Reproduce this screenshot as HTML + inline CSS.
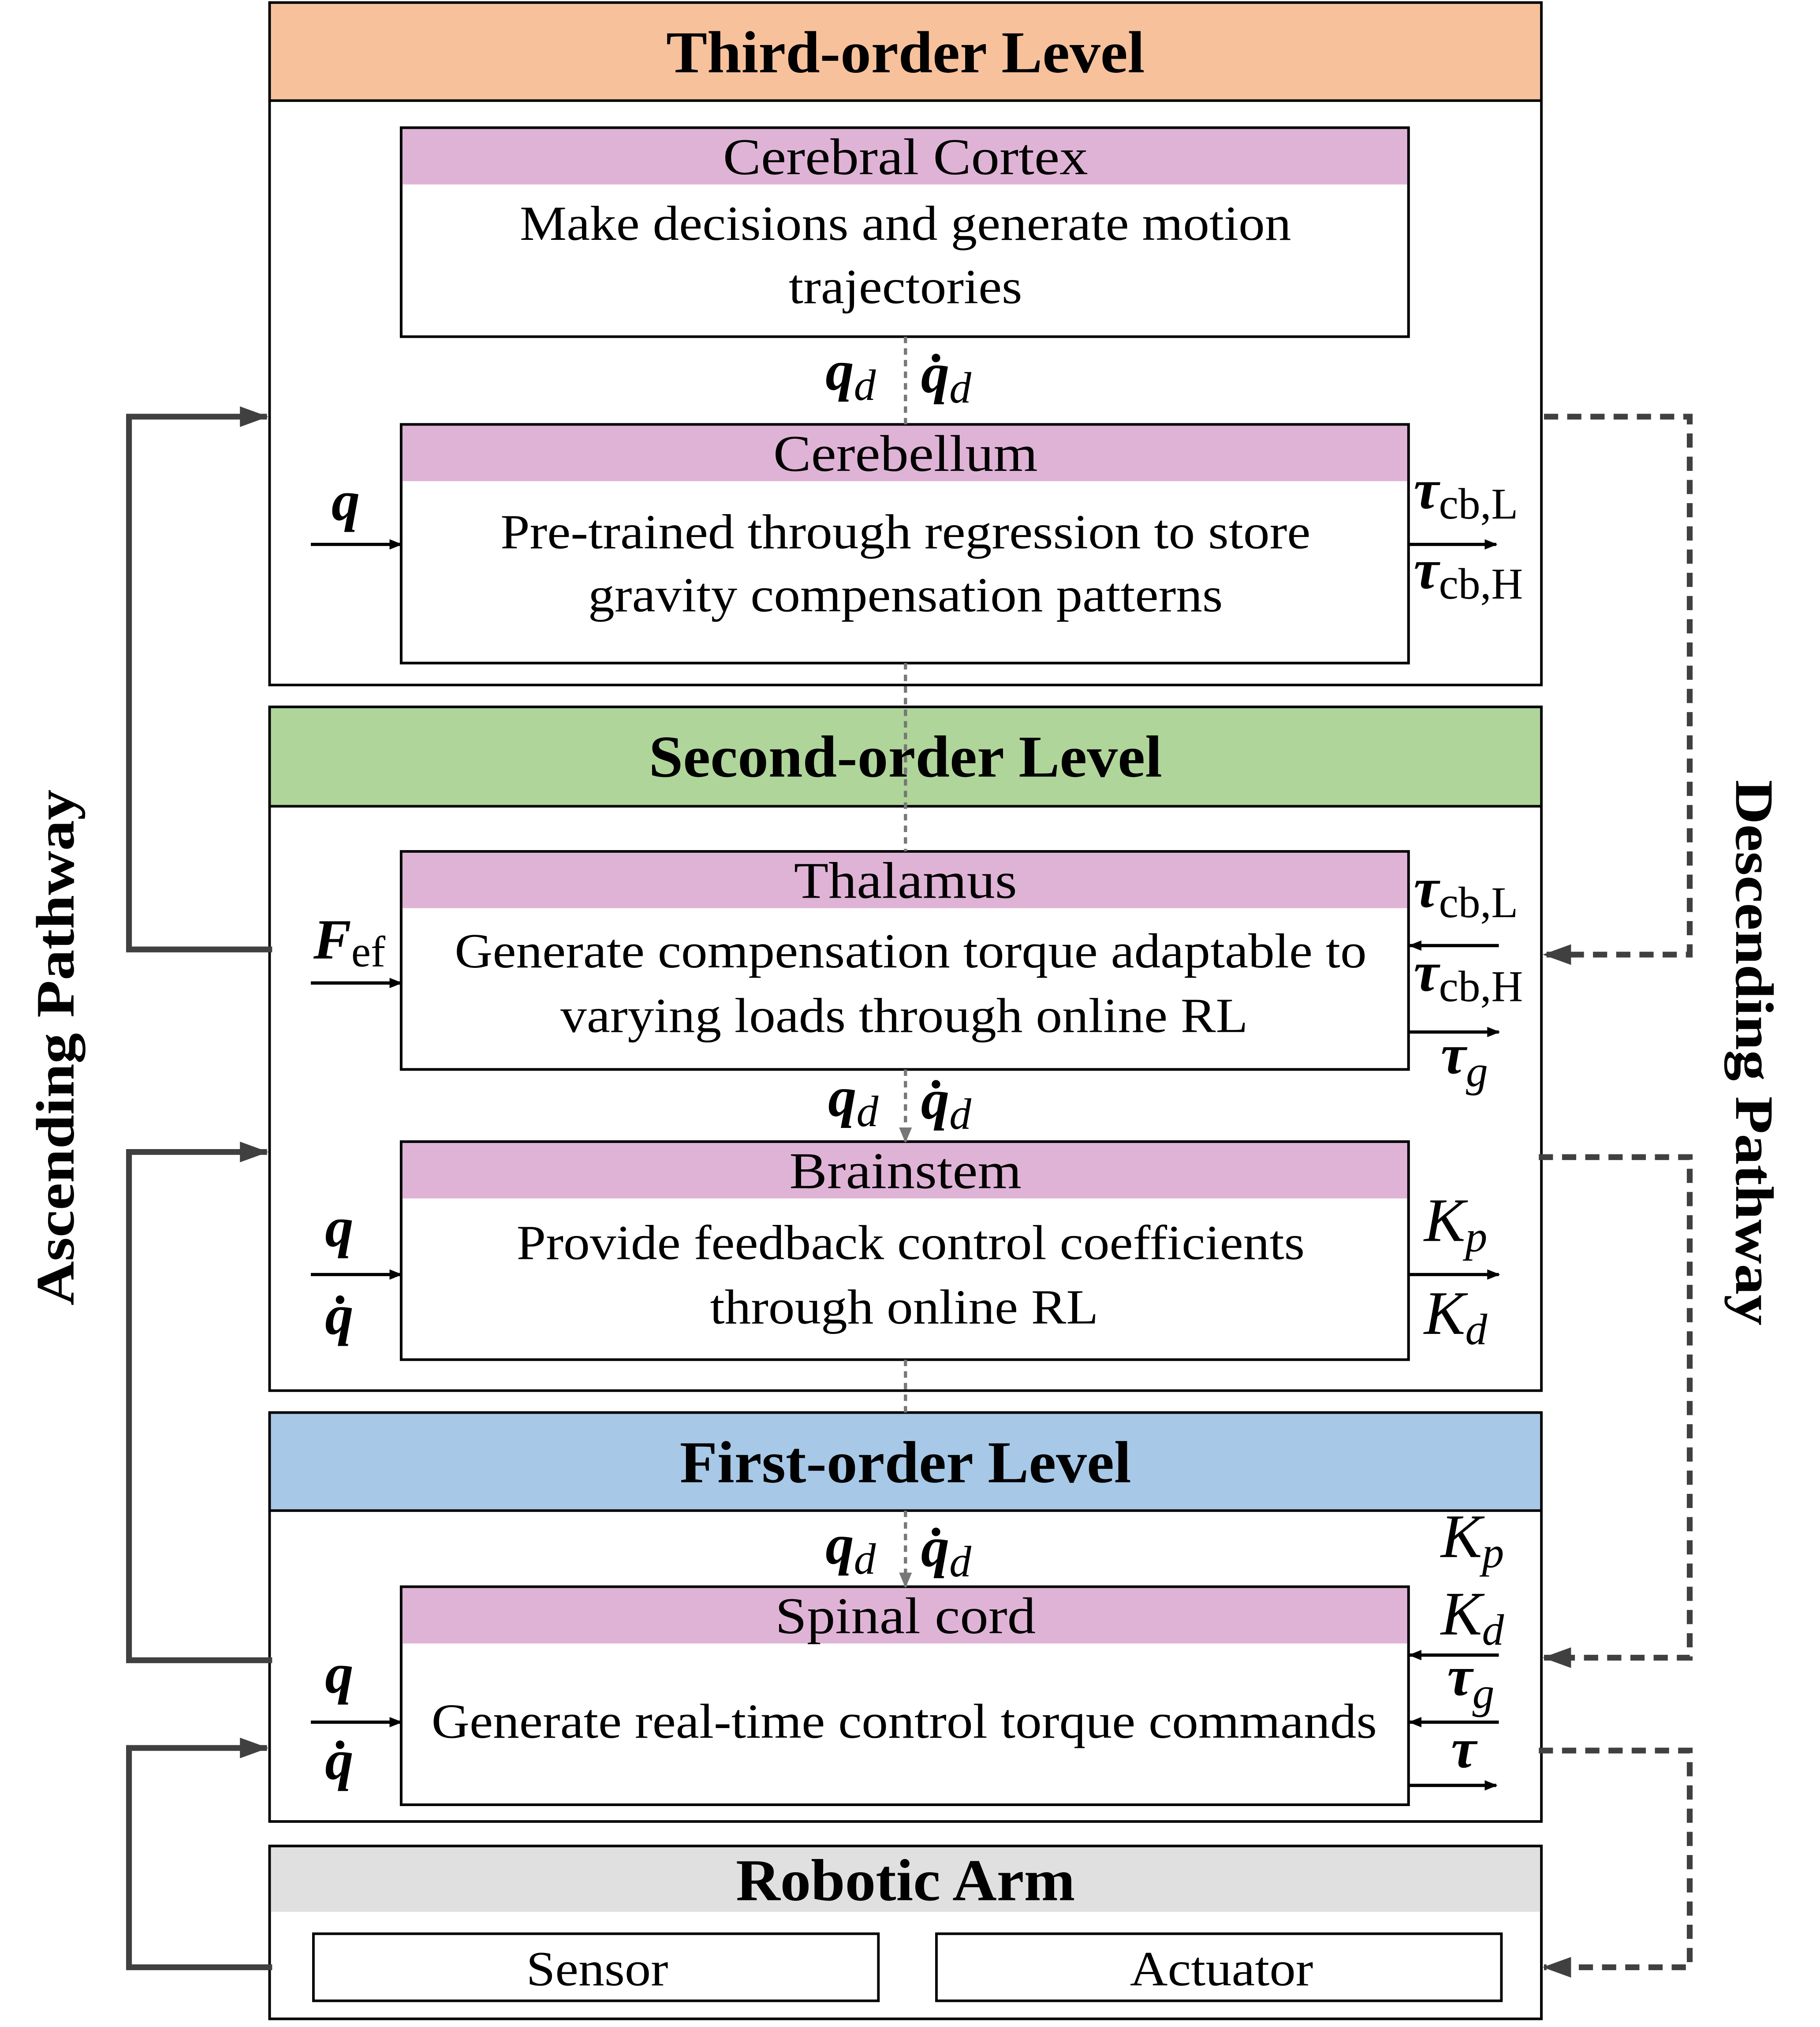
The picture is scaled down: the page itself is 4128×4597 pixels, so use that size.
<!DOCTYPE html>
<html><head><meta charset="utf-8"><style>
html,body{margin:0;padding:0;background:#fff}
svg{display:block}
text{font-family:"Liberation Serif",serif;fill:#000}
.t{font-size:40px;text-anchor:middle}
.b{font-size:38px;text-anchor:middle}
.h{font-size:46px;font-weight:bold;text-anchor:middle}
.m{font-size:44px;font-style:italic;font-weight:bold}
.s{font-size:34px;font-style:normal;font-weight:normal}
.si{font-size:34px;font-style:italic;font-weight:normal}
.k{font-size:48px;font-style:italic}
</style></head><body>
<svg width="4128" height="4597" viewBox="0 0 1411 1571.3" preserveAspectRatio="none" xmlns="http://www.w3.org/2000/svg">
<defs>
<marker id="a" markerWidth="10" markerHeight="8" refX="9" refY="4" orient="auto" markerUnits="userSpaceOnUse"><path d="M0,0 L10,4 L0,8 z" fill="#000"/></marker>
<marker id="g" markerWidth="12" markerHeight="10" refX="11" refY="5" orient="auto" markerUnits="userSpaceOnUse"><path d="M0,0 L12,5 L0,10 z" fill="#777"/></marker>
<marker id="d" markerWidth="22" markerHeight="16" refX="21" refY="8" orient="auto" markerUnits="userSpaceOnUse"><path d="M0,0 L22,8 L0,16 z" fill="#404040"/></marker>
</defs>
<g stroke="#000" stroke-width="2">
<rect x="209" y="2" width="986" height="529" fill="#fff"/>
<rect x="209" y="2" width="986" height="76" fill="#f7c19c"/>
<rect x="311" y="99" width="781" height="162" fill="#fff"/>
<rect x="311" y="99" width="781" height="44" fill="#dfb3d6" stroke="none"/>
<rect x="311" y="99" width="781" height="162" fill="none"/>
<rect x="311" y="329" width="781" height="185" fill="#fff"/>
<rect x="311" y="329" width="781" height="44" fill="#dfb3d6" stroke="none"/>
<rect x="311" y="329" width="781" height="185" fill="none"/>
<rect x="209" y="548" width="986" height="530" fill="#fff"/>
<rect x="209" y="548" width="986" height="77" fill="#b0d59a"/>
<rect x="311" y="660" width="781" height="169" fill="#fff"/>
<rect x="311" y="660" width="781" height="44" fill="#dfb3d6" stroke="none"/>
<rect x="311" y="660" width="781" height="169" fill="none"/>
<rect x="311" y="885" width="781" height="169" fill="#fff"/>
<rect x="311" y="885" width="781" height="44" fill="#dfb3d6" stroke="none"/>
<rect x="311" y="885" width="781" height="169" fill="none"/>
<rect x="209" y="1095" width="986" height="317" fill="#fff"/>
<rect x="209" y="1095" width="986" height="76" fill="#a7c8e6"/>
<rect x="311" y="1230" width="781" height="169" fill="#fff"/>
<rect x="311" y="1230" width="781" height="44" fill="#dfb3d6" stroke="none"/>
<rect x="311" y="1230" width="781" height="169" fill="none"/>
<rect x="209" y="1431" width="986" height="134" fill="#fff"/>
<rect x="209" y="1431" width="986" height="51" fill="#e0e0e0" stroke="none"/>
<rect x="209" y="1431" width="986" height="134" fill="none"/>
<rect x="243" y="1499" width="438" height="52" fill="#fff"/>
<rect x="726" y="1499" width="438" height="52" fill="#fff"/>
</g>
<g stroke="#777" stroke-width="2.5" stroke-dasharray="5,4" fill="none">
<line x1="702" y1="261" x2="702" y2="329"/>
<line x1="702" y1="514" x2="702" y2="660"/>
<line x1="702" y1="829" x2="702" y2="885" marker-end="url(#g)"/>
<line x1="702" y1="1054" x2="702" y2="1095"/>
<line x1="702" y1="1171" x2="702" y2="1230" marker-end="url(#g)"/>
</g>
<g stroke="#000" stroke-width="2.5" fill="none" marker-end="url(#a)">
<line x1="241" y1="422" x2="311" y2="422"/>
<line x1="1092" y1="422" x2="1160" y2="422"/>
<line x1="241" y1="762" x2="311" y2="762"/>
<line x1="1162" y1="733" x2="1093" y2="733"/>
<line x1="1092" y1="800" x2="1162" y2="800"/>
<line x1="241" y1="988" x2="311" y2="988"/>
<line x1="1092" y1="988" x2="1162" y2="988"/>
<line x1="241" y1="1335" x2="311" y2="1335"/>
<line x1="1162" y1="1283" x2="1093" y2="1283"/>
<line x1="1162" y1="1335" x2="1093" y2="1335"/>
<line x1="1092" y1="1384" x2="1160" y2="1384"/>
</g>
<g stroke="#404040" stroke-width="4.5" fill="none" marker-end="url(#d)">
<polyline points="211,736 100,736 100,323 207,323"/>
<polyline points="211,1287 100,1287 100,893 207,893"/>
<polyline points="211,1525 100,1525 100,1355 207,1355"/>
</g>
<g stroke="#404040" stroke-width="4.5" fill="none" stroke-dasharray="11,7" marker-end="url(#d)">
<polyline points="1197,323 1310,323 1310,740 1197,740"/>
<polyline points="1193,897 1310,897 1310,1285 1197,1285"/>
<polyline points="1193,1357 1310,1357 1310,1525 1197,1525"/>
</g>
<text transform="translate(57,812) rotate(-90)" style="font-size:42px;font-weight:bold;text-anchor:middle" textLength="400" lengthAdjust="spacingAndGlyphs">Ascending Pathway</text>
<text transform="translate(1346,816) rotate(90)" style="font-size:42px;font-weight:bold;text-anchor:middle" textLength="423" lengthAdjust="spacingAndGlyphs">Descending Pathway</text>
<text class="h" x="702" y="56" textLength="371" lengthAdjust="spacingAndGlyphs">Third-order Level</text>
<text class="h" x="702" y="602" textLength="398" lengthAdjust="spacingAndGlyphs">Second-order Level</text>
<text class="h" x="702" y="1149" textLength="350" lengthAdjust="spacingAndGlyphs">First-order Level</text>
<text class="h" x="702" y="1473" textLength="263" lengthAdjust="spacingAndGlyphs">Robotic Arm</text>
<text class="t" x="702" y="135" textLength="283" lengthAdjust="spacingAndGlyphs">Cerebral Cortex</text>
<text class="t" x="702" y="365" textLength="205" lengthAdjust="spacingAndGlyphs">Cerebellum</text>
<text class="t" x="702" y="696" textLength="173" lengthAdjust="spacingAndGlyphs">Thalamus</text>
<text class="t" x="702" y="921" textLength="180" lengthAdjust="spacingAndGlyphs">Brainstem</text>
<text class="t" x="702" y="1266" textLength="202" lengthAdjust="spacingAndGlyphs">Spinal cord</text>
<text class="b" x="702" y="186" textLength="598" lengthAdjust="spacingAndGlyphs">Make decisions and generate motion</text>
<text class="b" x="702" y="235" textLength="181" lengthAdjust="spacingAndGlyphs">trajectories</text>
<text class="b" x="702" y="425" textLength="628" lengthAdjust="spacingAndGlyphs">Pre-trained through regression to store</text>
<text class="b" x="702" y="474" textLength="492" lengthAdjust="spacingAndGlyphs">gravity compensation patterns</text>
<text class="b" x="706" y="750" textLength="707" lengthAdjust="spacingAndGlyphs">Generate compensation torque adaptable to</text>
<text class="b" x="701" y="800" textLength="533" lengthAdjust="spacingAndGlyphs">varying loads through online RL</text>
<text class="b" x="706" y="976" textLength="611" lengthAdjust="spacingAndGlyphs">Provide feedback control coefficients</text>
<text class="b" x="701" y="1026" textLength="301" lengthAdjust="spacingAndGlyphs">through online RL</text>
<text class="b" x="701" y="1347" textLength="733" lengthAdjust="spacingAndGlyphs">Generate real-time control torque commands</text>
<text class="b" x="463" y="1539" textLength="110" lengthAdjust="spacingAndGlyphs">Sensor</text>
<text class="b" x="947" y="1539" textLength="142" lengthAdjust="spacingAndGlyphs">Actuator</text>
<text class="m" x="640" y="302">q<tspan class="si" dy="8">d</tspan></text>
<text class="m" x="714" y="304">q̇<tspan class="si" dy="8">d</tspan></text>
<text class="m" x="642" y="865">q<tspan class="si" dy="8">d</tspan></text>
<text class="m" x="714" y="867">q̇<tspan class="si" dy="8">d</tspan></text>
<text class="m" x="640" y="1212">q<tspan class="si" dy="8">d</tspan></text>
<text class="m" x="714" y="1214">q̇<tspan class="si" dy="8">d</tspan></text>
<text class="m" x="257" y="403">q</text>
<text class="m" x="243" y="743">F<tspan class="s" dy="6">ef</tspan></text>
<text class="m" x="252" y="966">q</text>
<text class="m" x="252" y="1034">q̇</text>
<text class="m" x="252" y="1312">q</text>
<text class="m" x="252" y="1379">q̇</text>
<text class="m" x="1096" y="394">τ<tspan class="s" dy="8">cb,L</tspan></text>
<text class="m" x="1096" y="456">τ<tspan class="s" dy="8">cb,H</tspan></text>
<text class="m" x="1096" y="703">τ<tspan class="s" dy="8">cb,L</tspan></text>
<text class="m" x="1096" y="768">τ<tspan class="s" dy="8">cb,H</tspan></text>
<text class="m" x="1117" y="832">τ<tspan class="si" dy="10">g</tspan></text>
<text class="k" x="1104" y="962">K<tspan class="si" dy="8">p</tspan></text>
<text class="k" x="1104" y="1034">K<tspan class="si" dy="8">d</tspan></text>
<text class="k" x="1117" y="1207">K<tspan class="si" dy="8">p</tspan></text>
<text class="k" x="1117" y="1267">K<tspan class="si" dy="8">d</tspan></text>
<text class="m" x="1122" y="1314">τ<tspan class="si" dy="10">g</tspan></text>
<text class="m" x="1125" y="1370">τ</text>
</svg>
</body></html>
